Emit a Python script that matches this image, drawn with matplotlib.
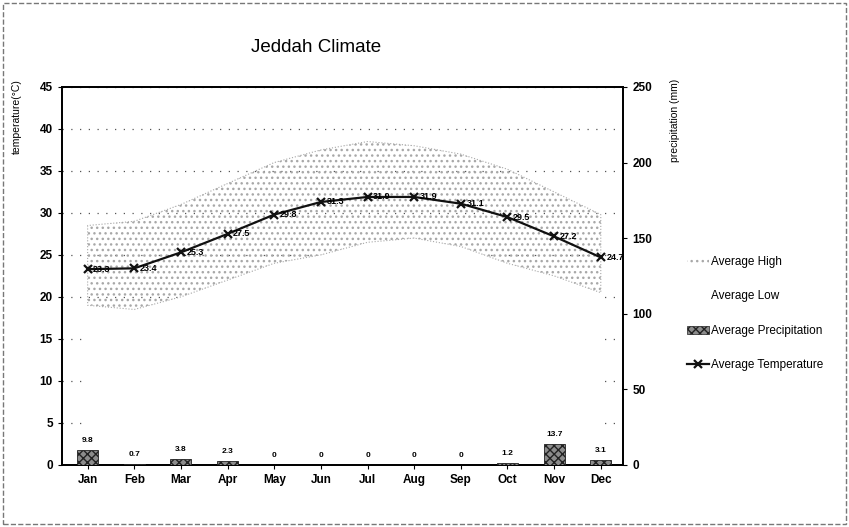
import numpy as np
import matplotlib
matplotlib.use("Agg")
import matplotlib.pyplot as plt
from matplotlib.patches import Patch, Rectangle
from matplotlib.lines import Line2D

plt.rcParams['font.family'] = ['Liberation Sans', 'DejaVu Sans']

months = ['Jan', 'Feb', 'Mar', 'Apr', 'May', 'Jun',
          'Jul', 'Aug', 'Sep', 'Oct', 'Nov', 'Dec']
avg_high = [28.5, 29.0, 31.0, 33.5, 36.0, 37.5, 38.5, 38.0, 37.0, 35.2, 32.5, 29.8]
avg_low = [19.0, 18.5, 20.0, 22.0, 24.0, 25.0, 26.5, 27.0, 26.0, 24.0, 22.5, 20.5]
avg_temp = [23.3, 23.4, 25.3, 27.5, 29.8, 31.3, 31.9, 31.9, 31.1, 29.5, 27.2, 24.7]
precip = [9.8, 0.7, 3.8, 2.3, 0, 0, 0, 0, 0, 1.2, 13.7, 3.1]
precip_text = ['9.8', '0.7', '3.8', '2.3', '0', '0', '0', '0', '0', '1.2', '13.7', '3.1']

x = np.arange(len(months))

fig = plt.figure(figsize=(8.49, 5.27), dpi=100)
ax = fig.add_axes([0.073, 0.118, 0.661, 0.717])

# dotted grid, hidden under the low area
ax.set_axisbelow(True)
ax.yaxis.grid(True, linestyle=(0, (1, 6)), color='#555555', lw=0.9)

# white low area hides the grid, stippled band from low to high
ax.fill_between(x, 0, avg_low, facecolor='white', edgecolor='none',
                linewidth=0, zorder=1)
ax.fill_between(x, avg_low, avg_high, facecolor='none', edgecolor='#a8a8a8',
                hatch='...', linewidth=0.8, linestyle=':', zorder=2)

# average temperature
ax.plot(x, avg_temp, color='#111111', lw=1.6, marker='x', ms=6, mew=1.6, zorder=4)
for xi, t in zip(x, avg_temp):
    ax.annotate(f'{t:.1f}', (xi, t), xytext=(4, 0), textcoords='offset points',
                fontsize=6.5, fontweight='bold', va='center', ha='left',
                annotation_clip=False, clip_on=True, zorder=5)

ax.set_xlim(-0.55, 11.48)
ax.set_ylim(0, 45)
ax.set_yticks(np.arange(0, 46, 5))
ax.set_xticks(x)
ax.set_xticklabels(months)
ax.tick_params(labelsize=8.5, length=3)
for lab in ax.get_xticklabels() + ax.get_yticklabels():
    lab.set_fontweight('bold')

# precipitation on right axis
ax2 = ax.twinx()
ax2.bar(x, precip, width=0.45, facecolor='#8c8c8c', edgecolor='#222222',
        hatch='xxxx', linewidth=0.6, zorder=3)
for xi, p, s in zip(x, precip, precip_text):
    ax2.text(xi, p + 4, s, ha='center', va='bottom', fontsize=6, fontweight='bold')
ax2.set_ylim(0, 250)
ax2.set_yticks(np.arange(0, 251, 50))
ax2.tick_params(labelsize=8.5, length=3)
for lab in ax2.get_yticklabels():
    lab.set_fontweight('bold')

for a in (ax, ax2):
    for sp in a.spines.values():
        sp.set_linewidth(1.3)

fig.text(0.372, 0.91, 'Jeddah Climate', ha='center', va='center', fontsize=13.5)
fig.text(0.02, 0.85, 'temperature(°C)', rotation=90, ha='center', va='top', fontsize=7.5)
fig.text(0.795, 0.85, 'precipitation (mm)', rotation=90, ha='center', va='top', fontsize=7.5)

handles = [
    Patch(facecolor='white', edgecolor='#a8a8a8', hatch='...', linewidth=0),
    Patch(facecolor='white', edgecolor='white', linewidth=0),
    Patch(facecolor='#8c8c8c', edgecolor='#222222', hatch='xxxx', linewidth=0.5),
    Line2D([0], [0], color='#111111', lw=1.6, marker='x', ms=6, mew=1.6),
]
labels = ['Average High', 'Average Low', 'Average Precipitation', 'Average Temperature']
fig.legend(handles, labels, loc='center left', bbox_to_anchor=(0.797, 0.405),
           frameon=False, fontsize=8.5, labelspacing=1.9, handlelength=1.8,
           handletextpad=0.2)

# border around the figure
fig.patches.append(Rectangle((0.004, 0.006), 0.992, 0.988, transform=fig.transFigure,
                             fill=False, edgecolor='#777777', lw=1.0, linestyle='--'))

fig.savefig('out.png', dpi=100)
